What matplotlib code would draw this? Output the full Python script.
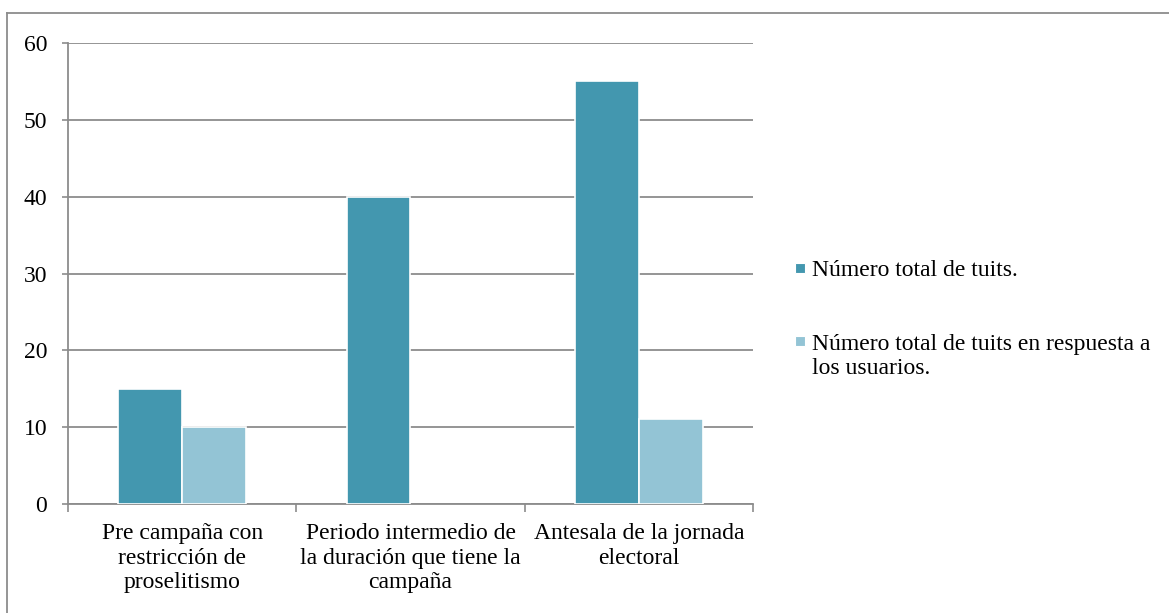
import matplotlib
matplotlib.use("Agg")
import matplotlib.pyplot as plt
import numpy as np
from matplotlib.patches import Rectangle
from matplotlib.lines import Line2D

# ── datos ─────────────────────────────────────────────────────
categorias = [
    "Pre campaña con\nrestricción de\nproselitismo",
    "Periodo intermedio de\nla duración que tiene la\ncampaña",
    "Antesala de la jornada\nelectoral",
]
total_tuits = [15, 40, 55]
tuits_respuesta = [10, 0, 11]
series = ["Número total de tuits.", "Número total de tuits en respuesta a\nlos usuarios."]
y_ticks = [0, 10, 20, 30, 40, 50, 60]

C_OSCURO = "#4397AF"
C_CLARO = "#93C4D5"
GRIS = "#8c8c8c"
FS = 17
PASO = 25  # px entre líneas de texto

plt.rcParams["font.family"] = ["Liberation Serif", "DejaVu Serif"]

W, H = 1169, 613
fig = plt.figure(figsize=(W / 100, H / 100), dpi=100)
fig.patch.set_facecolor("white")
ax = fig.add_axes([68 / W, 1 - 504 / H, (753 - 68) / W, (504 - 43) / H])

x = np.arange(len(categorias))
w = 0.28
for offs, vals, col in [(-w / 2, total_tuits, C_OSCURO), (w / 2, tuits_respuesta, C_CLARO)]:
    ax.bar(x + offs, vals, w, color=col, edgecolor="white",
           linewidth=[1.2 if v else 0 for v in vals], zorder=3)

ax.set_xlim(-0.5, len(categorias) - 0.5)
ax.set_ylim(0, 60)
ax.set_yticks(y_ticks)
ax.tick_params(axis="y", labelsize=FS, length=4.5, width=1.2, color=GRIS, pad=10.5)
ax.yaxis.grid(True, color=GRIS, linewidth=1.3, zorder=0)

ax.set_xticks(x)
ax.set_xticklabels(categorias, fontsize=FS, linespacing=1.2)
ax.tick_params(axis="x", which="major", length=0, pad=14)
ax.set_xticks(np.arange(len(categorias) + 1) - 0.5, minor=True)
ax.tick_params(axis="x", which="minor", length=6, width=1.2, color=GRIS)

for s in ["top", "right"]:
    ax.spines[s].set_visible(False)
for s in ["left", "bottom"]:
    ax.spines[s].set_color(GRIS)
    ax.spines[s].set_linewidth(1.3)

# ── leyenda (marcador cuadrado alineado con la primera línea) ─
leyenda_y = [276, 349]  # línea base de la primera línea de cada entrada
for lab, col, yb in zip(series, [C_OSCURO, C_CLARO], leyenda_y):
    fig.add_artist(Rectangle((795 / W, 1 - (yb - 3) / H), 10 / W, 10 / H,
                             transform=fig.transFigure, facecolor=col,
                             edgecolor="white", linewidth=0.8))
    ultima = yb + PASO * lab.count("\n")
    fig.text(812 / W, 1 - ultima / H, lab, fontsize=FS, va="baseline", ha="left",
             linespacing=1.2)

# marco exterior (solo borde superior e izquierdo visibles)
fig.add_artist(Line2D([6.5 / W, 6.5 / W], [0, 1 - 13 / H], color=GRIS, lw=1.3))
fig.add_artist(Line2D([6.5 / W, 1], [1 - 13 / H, 1 - 13 / H], color=GRIS, lw=1.3))

fig.savefig("out.png", dpi=100)
